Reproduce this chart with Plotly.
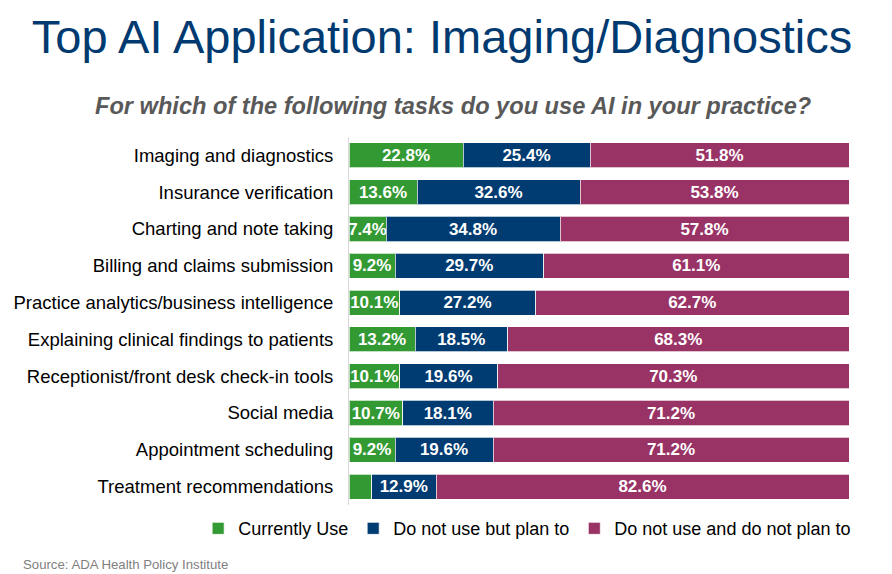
import plotly.graph_objects as go

categories = [
    "Imaging and diagnostics",
    "Insurance verification",
    "Charting and note taking",
    "Billing and claims submission",
    "Practice analytics/business intelligence",
    "Explaining clinical findings to patients",
    "Receptionist/front desk check-in tools",
    "Social media",
    "Appointment scheduling",
    "Treatment recommendations",
]
currently_use = [22.8, 13.6, 7.4, 9.2, 10.1, 13.2, 10.1, 10.7, 9.2, 4.5]
plan_to = [25.4, 32.6, 34.8, 29.7, 27.2, 18.5, 19.6, 18.1, 19.6, 12.9]
no_plan = [51.8, 53.8, 57.8, 61.1, 62.7, 68.3, 70.3, 71.2, 71.2, 82.6]
currently_labels = ["22.8%", "13.6%", "7.4%", "9.2%", "10.1%", "13.2%", "10.1%", "10.7%", "9.2%", ""]
plan_labels = [f"{v}%" for v in plan_to]
no_plan_labels = [f"{v}%" for v in no_plan]

series = [
    ("Currently Use", currently_use, currently_labels, "#339933"),
    ("Do not use but plan to", plan_to, plan_labels, "#003B71"),
    ("Do not use and do not plan to", no_plan, no_plan_labels, "#993366"),
]

FONT = "Arial, Liberation Sans, sans-serif"

fig = go.Figure()
for name, vals, labels, color in series:
    fig.add_trace(go.Bar(
        y=categories, x=vals, name=name, orientation="h",
        marker=dict(color=color, line=dict(color="rgba(255,255,255,0.7)", width=1)),
        text=labels, textposition="inside", insidetextanchor="middle",
        textangle=0,
        textfont=dict(family=FONT, size=17, color="white", weight="bold"),
        hoverinfo="skip",
    ))

fig.update_layout(
    width=892, height=574,
    barmode="stack", bargap=0.32,
    plot_bgcolor="white", paper_bgcolor="white",
    margin=dict(l=349, r=43, t=137, b=69),
    uniformtext=dict(minsize=17, mode="show"),
    font=dict(family=FONT, color="#000000"),
    title=dict(
        text="Top AI Application: Imaging/Diagnostics",
        font=dict(size=47, color="#003A70", family=FONT),
        x=442 / 892, xanchor="center", xref="container",
        y=1 - 20 / 574, yanchor="top", yref="container",
    ),
    xaxis=dict(range=[0, 100], showgrid=False, zeroline=False, showticklabels=False,
               showline=False, fixedrange=True),
    yaxis=dict(autorange="reversed", showgrid=False, zeroline=False,
               showline=True, linecolor="#d9d9d9", linewidth=1,
               ticks="outside", ticklen=11, tickcolor="rgba(0,0,0,0)",
               tickfont=dict(size=18.5, color="#000000")),
    legend=dict(orientation="h", x=(198 - 349) / 500.5, xanchor="left",
                y=-0.014, yanchor="top", traceorder="normal",
                font=dict(size=18, color="#000000"), itemwidth=30),
    annotations=[
        dict(text="<b><i>For which of the following tasks do you use AI in your practice?</i></b>",
             xref="paper", yref="paper", x=(453 - 349) / 500.5, y=1 + 16 / 368,
             xanchor="center", yanchor="bottom", showarrow=False,
             font=dict(size=23.6, color="#595959")),
        dict(text="Source: ADA Health Policy Institute",
             xref="paper", yref="paper", x=(21 - 349) / 500.5, y=-(565 - 505.4) / 368,
             xanchor="left", yanchor="middle", showarrow=False,
             font=dict(size=13.2, color="#7F7F7F")),
    ],
)

fig.write_html("out.html")
